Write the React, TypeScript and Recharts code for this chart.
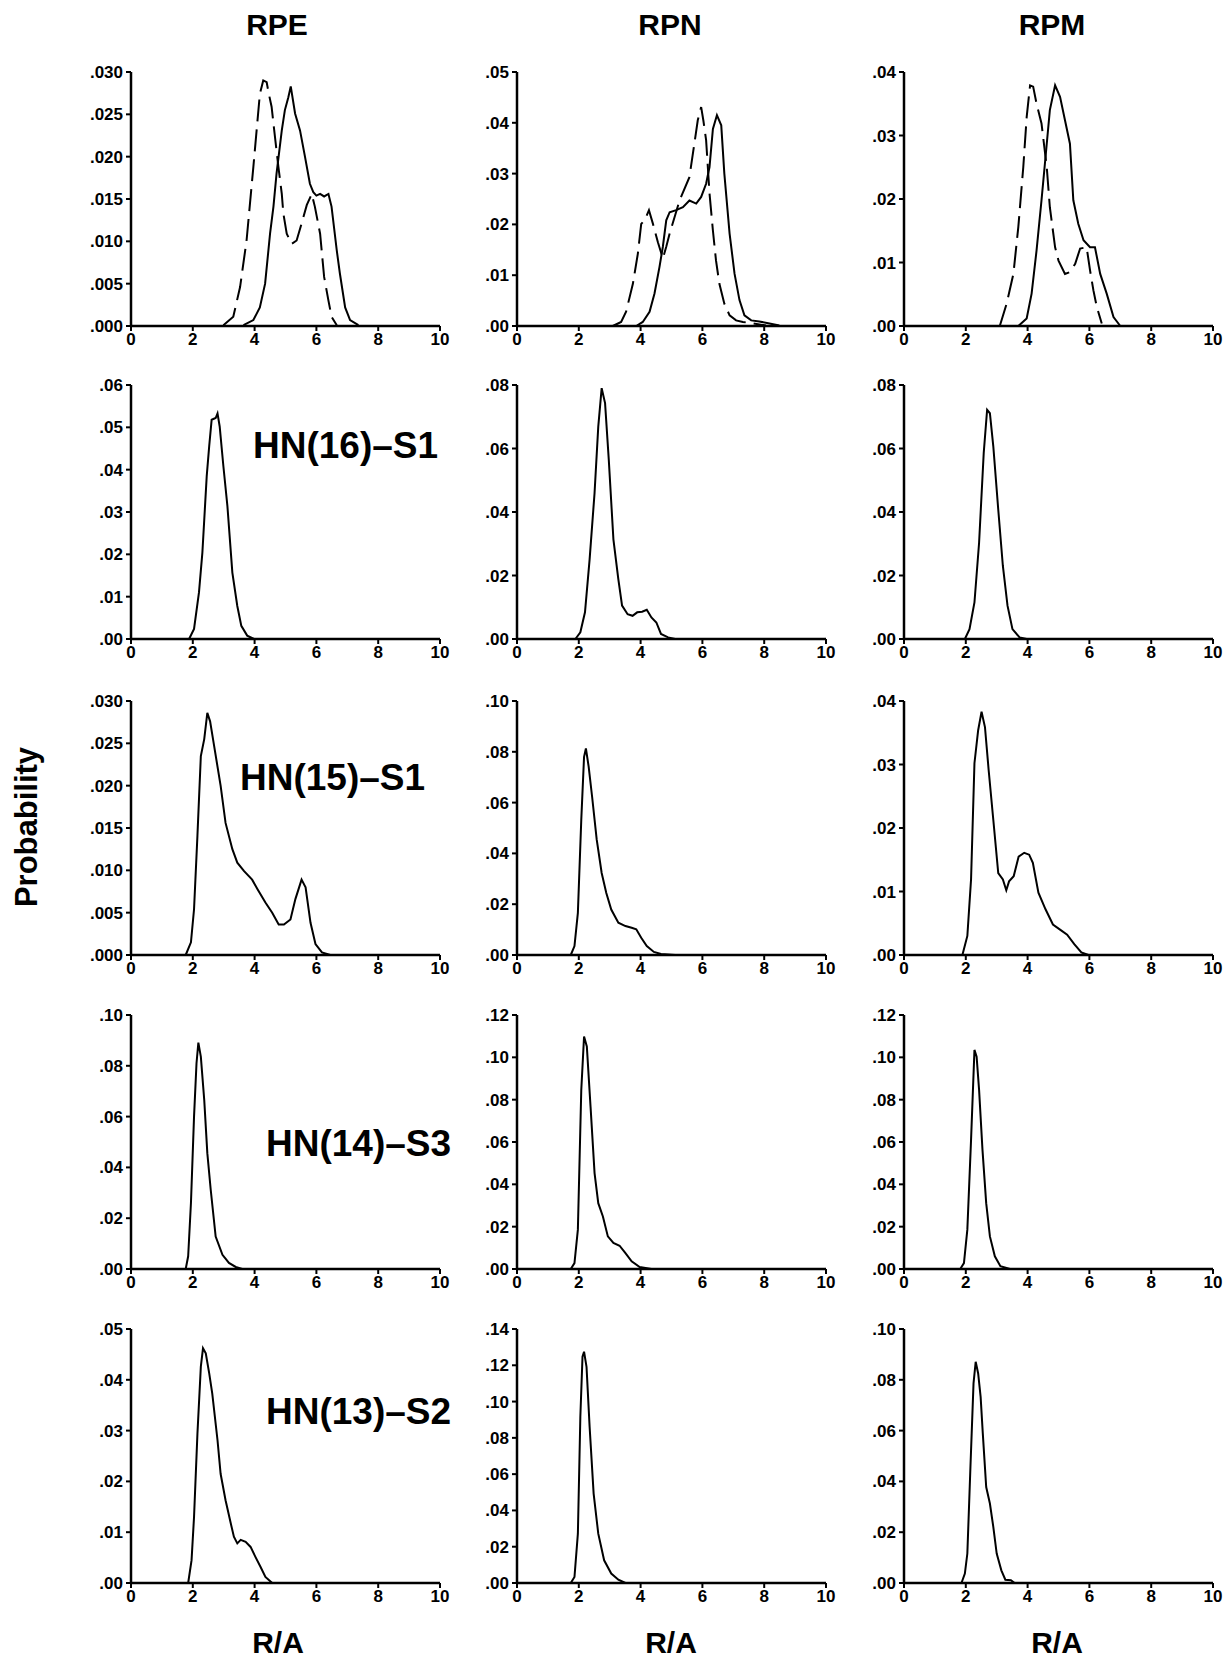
import { LineChart, Line, XAxis, YAxis } from 'recharts';

// R/A vs probability. Each curve is a list of [R/A, probability].
const rpeS1 = [[3.64, 0.0001], [3.96, 0.0007], [4.17, 0.0022], [4.34, 0.005], [4.5, 0.0109], [4.61, 0.0141], [4.71, 0.018], [4.88, 0.0231], [4.98, 0.0255], [5.09, 0.027], [5.17, 0.0283], [5.31, 0.0251], [5.47, 0.0231], [5.63, 0.02], [5.79, 0.0168], [5.9, 0.0158], [6.0, 0.0154], [6.12, 0.0156], [6.25, 0.0153], [6.39, 0.0156], [6.49, 0.0141], [6.66, 0.0089], [6.76, 0.0062], [6.93, 0.0022], [7.09, 0.0007], [7.36, 0.0001]];
const rpeD1 = [[2.99, 0.0001], [3.31, 0.0011], [3.53, 0.0046], [3.74, 0.0101], [3.96, 0.0188], [4.17, 0.0274], [4.28, 0.029], [4.39, 0.0288], [4.45, 0.0276], [4.55, 0.0259], [4.66, 0.0223], [4.77, 0.0188], [4.88, 0.0156], [4.93, 0.0133], [5.04, 0.0109], [5.2, 0.0097], [5.36, 0.0101], [5.52, 0.0121], [5.69, 0.0143], [5.85, 0.0156], [5.95, 0.0141], [6.12, 0.0109], [6.25, 0.0058], [6.39, 0.003], [6.49, 0.0011], [6.66, 0.0001]];
const rpnS1 = [[3.86, 0], [4.07, 0.0008], [4.29, 0.0028], [4.45, 0.0064], [4.61, 0.0116], [4.72, 0.0156], [4.83, 0.0208], [4.94, 0.0224], [5.15, 0.0228], [5.37, 0.0234], [5.58, 0.0247], [5.8, 0.0241], [5.96, 0.0254], [6.12, 0.028], [6.23, 0.0313], [6.34, 0.0388], [6.47, 0.0415], [6.61, 0.0395], [6.71, 0.03], [6.88, 0.0182], [7.04, 0.0103], [7.2, 0.0051], [7.36, 0.0021], [7.58, 0.0011], [7.84, 0.0009], [8.17, 0.0005], [8.49, 0.0001]];
const rpnD1 = [[3.1, 0], [3.37, 0.0008], [3.53, 0.0028], [3.75, 0.0083], [3.91, 0.0142], [4.02, 0.0201], [4.13, 0.0208], [4.27, 0.0228], [4.4, 0.0201], [4.56, 0.0165], [4.72, 0.0133], [4.83, 0.0156], [4.94, 0.0182], [5.26, 0.0247], [5.58, 0.0293], [5.74, 0.0359], [5.85, 0.0405], [5.96, 0.0431], [6.03, 0.0405], [6.12, 0.0366], [6.23, 0.0261], [6.34, 0.0188], [6.44, 0.0129], [6.55, 0.0083], [6.71, 0.0044], [6.88, 0.0021], [7.09, 0.0011], [7.31, 0.0008], [7.63, 0.0005], [8.06, 0.0001]];
const rpmS1 = [[3.7, 0], [3.97, 0.0012], [4.13, 0.0051], [4.29, 0.0119], [4.45, 0.0198], [4.62, 0.0287], [4.72, 0.034], [4.89, 0.0379], [5.05, 0.0361], [5.21, 0.0324], [5.37, 0.0287], [5.48, 0.0198], [5.64, 0.0161], [5.81, 0.0135], [6.02, 0.0124], [6.18, 0.0124], [6.35, 0.0082], [6.56, 0.0051], [6.78, 0.0014], [7.0, 0]];
const rpmD1 = [[3.1, 0], [3.32, 0.0035], [3.54, 0.0082], [3.7, 0.0156], [3.86, 0.025], [3.97, 0.0329], [4.08, 0.0379], [4.18, 0.0377], [4.29, 0.035], [4.45, 0.0319], [4.62, 0.025], [4.72, 0.0187], [4.89, 0.0124], [5.0, 0.0103], [5.21, 0.0082], [5.37, 0.0085], [5.54, 0.0098], [5.7, 0.0122], [5.91, 0.0124], [6.02, 0.0088], [6.13, 0.0056], [6.24, 0.003], [6.4, 0.0004]];

const rpe16 = [[1.88, 0], [2.04, 0.0024], [2.2, 0.011], [2.31, 0.0204], [2.45, 0.0384], [2.53, 0.0455], [2.61, 0.0518], [2.74, 0.0522], [2.8, 0.0533], [2.87, 0.0502], [2.99, 0.0408], [3.12, 0.0314], [3.28, 0.0157], [3.44, 0.0078], [3.57, 0.0031], [3.76, 0.0008], [3.98, 0]];
const rpn16 = [[1.89, 0], [2.05, 0.0021], [2.2, 0.0084], [2.35, 0.0251], [2.51, 0.046], [2.63, 0.0669], [2.74, 0.079], [2.85, 0.0743], [2.97, 0.0565], [3.12, 0.0314], [3.28, 0.0188], [3.4, 0.0105], [3.58, 0.0078], [3.74, 0.0073], [3.89, 0.0084], [4.05, 0.0086], [4.2, 0.0092], [4.35, 0.0068], [4.51, 0.0052], [4.66, 0.0016], [4.89, 0.0005], [5.12, 0]];
const rpm16 = [[1.97, 0], [2.12, 0.0031], [2.28, 0.0115], [2.43, 0.0303], [2.58, 0.0586], [2.69, 0.0722], [2.78, 0.0711], [2.89, 0.0607], [3.05, 0.0408], [3.2, 0.023], [3.35, 0.0105], [3.51, 0.0031], [3.74, 0.0005], [3.97, 0]];

const rpe15 = [[1.77, 0], [1.94, 0.0015], [2.04, 0.0054], [2.15, 0.0141], [2.26, 0.0235], [2.37, 0.0255], [2.47, 0.0286], [2.56, 0.0276], [2.69, 0.0247], [2.9, 0.02], [3.06, 0.0156], [3.28, 0.0125], [3.44, 0.0109], [3.66, 0.0099], [3.92, 0.0089], [4.09, 0.0078], [4.35, 0.0062], [4.57, 0.005], [4.78, 0.0036], [4.95, 0.0036], [5.16, 0.0042], [5.32, 0.0066], [5.52, 0.0089], [5.65, 0.008], [5.81, 0.0038], [5.97, 0.0013], [6.18, 0.0003], [6.45, 0]];
const rpn15 = [[1.74, 0], [1.86, 0.0035], [1.97, 0.0166], [2.08, 0.0532], [2.17, 0.078], [2.23, 0.0813], [2.32, 0.0741], [2.43, 0.0624], [2.58, 0.0454], [2.74, 0.0323], [2.89, 0.0244], [3.05, 0.0179], [3.28, 0.0127], [3.51, 0.0114], [3.71, 0.0107], [3.86, 0.0101], [4.02, 0.0068], [4.2, 0.0035], [4.43, 0.0012], [4.66, 0.0004], [5.12, 0]];
const rpm15 = [[1.89, 0], [2.05, 0.003], [2.17, 0.0119], [2.28, 0.0302], [2.4, 0.0354], [2.51, 0.0383], [2.62, 0.0359], [2.74, 0.0291], [2.89, 0.0213], [3.05, 0.0129], [3.2, 0.0119], [3.31, 0.0102], [3.4, 0.0116], [3.55, 0.0124], [3.71, 0.0155], [3.89, 0.0161], [4.05, 0.0158], [4.17, 0.0145], [4.35, 0.0098], [4.58, 0.0072], [4.82, 0.0048], [5.05, 0.004], [5.28, 0.0032], [5.51, 0.0017], [5.74, 0.0004], [5.97, 0]];

const rpe14 = [[1.77, 0], [1.85, 0.005], [1.94, 0.026], [2.04, 0.06], [2.12, 0.081], [2.18, 0.0891], [2.26, 0.0836], [2.37, 0.0666], [2.47, 0.0456], [2.58, 0.0312], [2.74, 0.0128], [2.96, 0.0056], [3.17, 0.0024], [3.39, 0.0008], [3.6, 0]];
const rpn14 = [[1.74, 0], [1.86, 0.0028], [1.97, 0.0186], [2.08, 0.0846], [2.17, 0.1098], [2.26, 0.1051], [2.38, 0.0767], [2.51, 0.0453], [2.63, 0.0311], [2.78, 0.0248], [2.94, 0.0154], [3.12, 0.0123], [3.32, 0.011], [3.51, 0.0075], [3.71, 0.0036], [3.97, 0.0009], [4.35, 0]];
const rpm14 = [[1.82, 0], [1.94, 0.0028], [2.05, 0.0186], [2.17, 0.061], [2.28, 0.1035], [2.35, 0.1003], [2.43, 0.0846], [2.54, 0.0563], [2.66, 0.0311], [2.78, 0.0154], [2.94, 0.006], [3.12, 0.0013], [3.43, 0]];

const rpe13 = [[1.85, 0], [1.96, 0.0045], [2.04, 0.013], [2.15, 0.0294], [2.26, 0.0426], [2.33, 0.0462], [2.42, 0.0452], [2.53, 0.0413], [2.63, 0.0373], [2.8, 0.0281], [2.9, 0.0215], [3.06, 0.0163], [3.23, 0.0117], [3.33, 0.0091], [3.44, 0.0078], [3.55, 0.0085], [3.71, 0.0081], [3.87, 0.0071], [4.03, 0.0051], [4.19, 0.0032], [4.35, 0.0012], [4.57, 0]];
const rpn13 = [[1.74, 0], [1.86, 0.0033], [1.97, 0.0272], [2.05, 0.0916], [2.12, 0.1247], [2.17, 0.1275], [2.25, 0.1192], [2.35, 0.0861], [2.48, 0.0493], [2.63, 0.0272], [2.82, 0.0125], [3.05, 0.0052], [3.28, 0.0018], [3.51, 0]];
const rpm13 = [[1.86, 0], [1.97, 0.0037], [2.05, 0.0116], [2.15, 0.0457], [2.25, 0.0786], [2.32, 0.0871], [2.4, 0.0825], [2.48, 0.0733], [2.55, 0.0589], [2.66, 0.0378], [2.78, 0.0313], [2.89, 0.0221], [3.0, 0.0116], [3.15, 0.005], [3.28, 0.0013], [3.46, 0.0011], [3.58, 0]];

const xTicks = [0, 2, 4, 6, 8, 10];
const t030 = [0, 0.005, 0.01, 0.015, 0.02, 0.025, 0.03];
const t04 = [0, 0.01, 0.02, 0.03, 0.04];
const t05 = [0, 0.01, 0.02, 0.03, 0.04, 0.05];
const t06 = [0, 0.01, 0.02, 0.03, 0.04, 0.05, 0.06];
const t08 = [0, 0.02, 0.04, 0.06, 0.08];
const t10 = [0, 0.02, 0.04, 0.06, 0.08, 0.1];
const t12 = [0, 0.02, 0.04, 0.06, 0.08, 0.1, 0.12];
const t14 = [0, 0.02, 0.04, 0.06, 0.08, 0.1, 0.12, 0.14];

const columns = ['RPE', 'RPN', 'RPM'];
const rowLabels = ['', 'HN(16)–S1', 'HN(15)–S1', 'HN(14)–S3', 'HN(13)–S2'];

type Panel = { solid: number[][]; dashed?: number[][]; ticks: number[]; dec: number };

const panels: Panel[][] = [
  [
    { solid: rpeS1, dashed: rpeD1, ticks: t030, dec: 3 },
    { solid: rpnS1, dashed: rpnD1, ticks: t05, dec: 2 },
    { solid: rpmS1, dashed: rpmD1, ticks: t04, dec: 2 },
  ],
  [
    { solid: rpe16, ticks: t06, dec: 2 },
    { solid: rpn16, ticks: t08, dec: 2 },
    { solid: rpm16, ticks: t08, dec: 2 },
  ],
  [
    { solid: rpe15, ticks: t030, dec: 3 },
    { solid: rpn15, ticks: t10, dec: 2 },
    { solid: rpm15, ticks: t04, dec: 2 },
  ],
  [
    { solid: rpe14, ticks: t10, dec: 2 },
    { solid: rpn14, ticks: t12, dec: 2 },
    { solid: rpm14, ticks: t12, dec: 2 },
  ],
  [
    { solid: rpe13, ticks: t05, dec: 2 },
    { solid: rpn13, ticks: t14, dec: 2 },
    { solid: rpm13, ticks: t10, dec: 2 },
  ],
];

// layout (plot-area corners in page pixels)
const plotLeft = [131, 517, 904];
const plotTop = [72, 385, 701, 1015, 1329];
const plotW = 309;
const plotH = 254;
const yAxisW = 50;
const mTop = 10;
const mRight = 20;
const xAxisH = 30;

const titleX = [277, 670, 1052];
const raX = [278, 671, 1057];
const labelPos = [null, [253, 458], [240, 790], [266, 1156], [266, 1424]];

const font = '"Liberation Sans", Arial, Helvetica, sans-serif';
const tickStyle = { fontSize: 17, fontWeight: 'bold', fill: '#000', fontFamily: font };

const toPts = (arr: number[][]) => arr.map(([x, y]) => ({ x, y }));

const PanelChart = ({ p, r, c }: { p: Panel; r: number; c: number }) => {
  const top = p.ticks[p.ticks.length - 1];
  const fmt = (v: number) => v.toFixed(p.dec).replace(/^0/, '');
  return (
    <div style={{ position: 'absolute', left: plotLeft[c] - yAxisW, top: plotTop[r] - mTop }}>
      <LineChart
        width={plotW + yAxisW + mRight}
        height={plotH + mTop + xAxisH}
        margin={{ top: mTop, right: mRight, left: 0, bottom: 0 }}
      >
        <XAxis
          dataKey="x"
          type="number"
          domain={[0, 10]}
          ticks={xTicks}
          height={xAxisH}
          axisLine={{ stroke: '#000', strokeWidth: 2.5 }}
          tickLine={{ stroke: '#000', strokeWidth: 2 }}
          tickSize={5}
          tickMargin={2}
          tick={tickStyle}
          interval={0}
        />
        <YAxis
          type="number"
          domain={[0, top]}
          ticks={p.ticks}
          width={yAxisW}
          axisLine={{ stroke: '#000', strokeWidth: 2.5 }}
          tickLine={{ stroke: '#000', strokeWidth: 2 }}
          tickSize={5}
          tickMargin={3}
          tick={tickStyle}
          tickFormatter={fmt}
          interval={0}
        />
        {p.dashed && (
          <Line
            data={toPts(p.dashed)}
            dataKey="y"
            type="linear"
            stroke="#000"
            strokeWidth={2}
            strokeDasharray="22 8"
            dot={false}
            isAnimationActive={false}
          />
        )}
        <Line
          data={toPts(p.solid)}
          dataKey="y"
          type="linear"
          stroke="#000"
          strokeWidth={2}
          dot={false}
          isAnimationActive={false}
        />
      </LineChart>
    </div>
  );
};

export default function App() {
  return (
    <div style={{ position: 'absolute', left: 0, top: 0, width: 1229, height: 1662, background: '#fff' }}>
      {panels.map((row, r) => row.map((p, c) => <PanelChart key={`${r}-${c}`} p={p} r={r} c={c} />))}
      <svg width={1229} height={1662} style={{ position: 'absolute', left: 0, top: 0, pointerEvents: 'none' }}>
        <g fontFamily={font} fontWeight="bold" fill="#000">
          {columns.map((t, i) => (
            <text key={t} x={titleX[i]} y={35} fontSize={30} textAnchor="middle">
              {t}
            </text>
          ))}
          {columns.map((t, i) => (
            <text key={`ra${t}`} x={raX[i]} y={1653} fontSize={30} textAnchor="middle">
              R/A
            </text>
          ))}
          {rowLabels.map((t, i) =>
            t ? (
              <text key={t} x={labelPos[i]![0]} y={labelPos[i]![1]} fontSize={37}>
                {t}
              </text>
            ) : null
          )}
          <text x={37} y={827} fontSize={31} textAnchor="middle" transform="rotate(-90 37 827)">
            Probability
          </text>
        </g>
      </svg>
    </div>
  );
}
